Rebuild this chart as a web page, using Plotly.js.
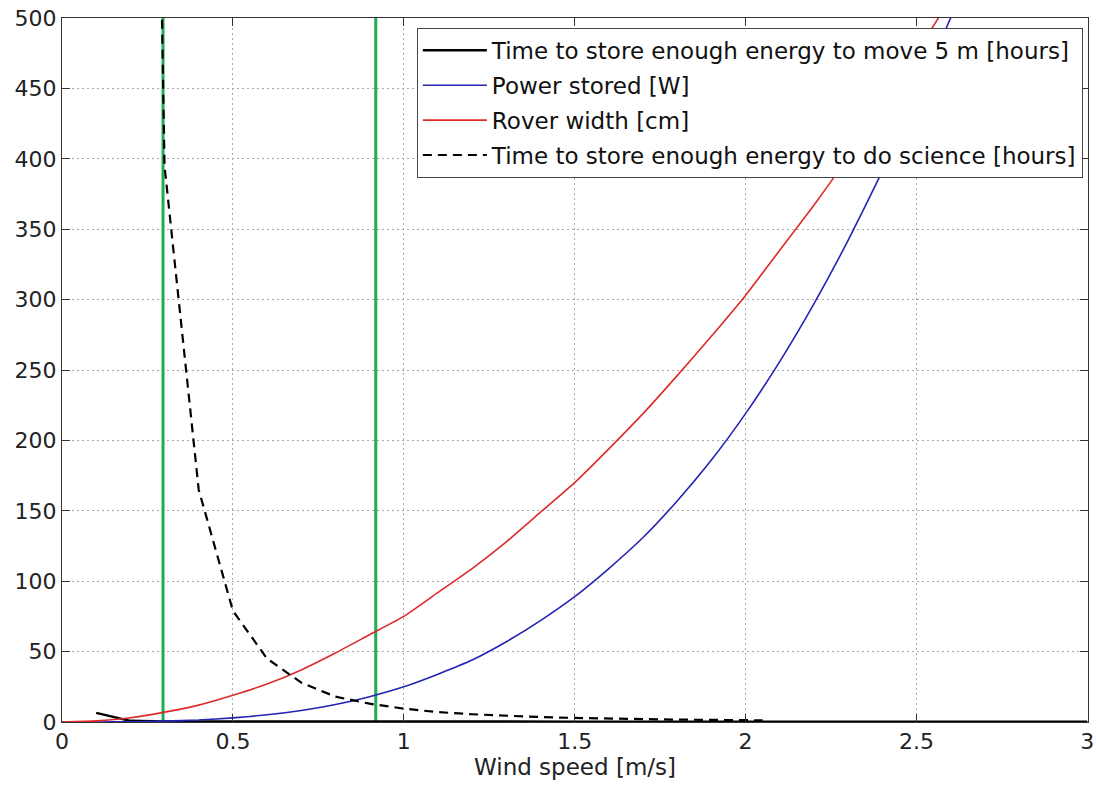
<!DOCTYPE html>
<html>
<head>
<meta charset="utf-8">
<script src="https://cdn.plot.ly/plotly-3.0.1.min.js"></script>
<style>html,body{margin:0;padding:0;background:#fff}#chart{width:1096px;height:790px}</style>
</head>
<body>
<div id="chart"></div>
<script>
// Time to store enough energy to move 5 m [hours]
const moveX = [0.1, 0.2, 0.3, 0.5, 1.0, 1.5, 2.0, 2.5, 3.0];
const moveY = [6.5, 0.8, 0.4, 0.3, 0.25, 0.25, 0.25, 0.25, 0.25];

// Power stored [W]
const powerX = [0, 0.1, 0.2, 0.3, 0.4, 0.5, 0.6, 0.7, 0.8, 0.9, 1.0, 1.1, 1.2, 1.3, 1.4, 1.5, 1.6, 1.7, 1.8, 1.9, 2.0, 2.1, 2.2, 2.3, 2.4, 2.5, 2.6, 2.65];
const powerY = [0, 0.02, 0.16, 0.6, 1.4, 2.9, 5.1, 8.2, 12.4, 18, 25, 34, 44, 57, 72, 89, 109, 131, 157, 186, 219, 256, 297, 342, 391, 444, 500, 530];

// Rover width [cm]
const widthX = [0, 0.1, 0.2, 0.3, 0.4, 0.5, 0.6, 0.7, 0.8, 0.9, 1.0, 1.1, 1.2, 1.3, 1.4, 1.5, 1.6, 1.7, 1.8, 1.9, 2.0, 2.1, 2.2, 2.3, 2.4, 2.5, 2.6];
const widthY = [0, 0.8, 3, 7, 12, 19, 27, 37, 49, 62, 75, 92, 109, 128, 149, 170, 194, 219, 246, 274, 303, 335, 367, 401, 437, 475, 514];

// Time to store enough energy to do science [hours]
const scienceX = [0.291, 0.3, 0.4, 0.5, 0.6, 0.7, 0.8, 0.9, 1.0, 1.1, 1.2, 1.3, 1.4, 1.5, 1.6, 1.7, 1.8, 1.9, 2.0, 2.05];
const scienceY = [520, 395, 165, 79, 45, 28, 18, 13, 9.5, 7, 5.5, 4.3, 3.5, 2.9, 2.4, 2.0, 1.7, 1.5, 1.3, 1.2];

// Vertical markers (wind speed limits)
const markerX = [0.2956, 0.918];
const markerY = [0, 500];

// Tick labels
const xTickVals = [0, 0.5, 1, 1.5, 2, 2.5, 3];
const xTickText = ["0", "0.5", "1", "1.5", "2", "2.5", "3"];
const yTickVals = [0, 50, 100, 150, 200, 250, 300, 350, 400, 450, 500];

const names = [
  "Time to store enough energy to move 5 m [hours]",
  "Power stored [W]",
  "Rover width [cm]",
  "Time to store enough energy to do science [hours]"
];

const traces = [];
markerX.forEach(function (mx) {
  traces.push({x: [mx, mx], y: markerY, mode: "lines", showlegend: false, hoverinfo: "skip",
    line: {color: "#22aa55", width: 3}});
});
traces.push({x: moveX, y: moveY, name: names[0], legendgroup: "a", mode: "lines", line: {color: "#000", width: 2.5}});
traces.push({x: powerX, y: powerY, name: names[1], legendgroup: "b", mode: "lines", line: {color: "#2424b4", width: 1.6, shape: "spline", smoothing: 0.5}});
traces.push({x: widthX, y: widthY, name: names[2], legendgroup: "c", mode: "lines", line: {color: "#dd2a2a", width: 1.6, shape: "spline", smoothing: 0.5}});
traces.push({x: scienceX, y: scienceY, name: names[3], legendgroup: "d", mode: "lines", line: {color: "#000", width: 2.2, dash: "9px,6px"}});

const fontFam = "DejaVu Sans, Arial, sans-serif";
const axisCommon = {
  showgrid: true, gridcolor: "#aaaaaa", griddash: "2px,3px", gridwidth: 1,
  showline: true, linecolor: "#333", linewidth: 1, mirror: "allticks",
  ticks: "inside", ticklen: 8, tickcolor: "#333", ticklabeloverflow: "allow",
  zeroline: false, tickfont: {family: fontFam, size: 22, color: "#222"}
};

const layout = {
  width: 1096, height: 790,
  margin: {l: 62, r: 8, t: 18, b: 68},
  paper_bgcolor: "#fff", plot_bgcolor: "#fff",
  showlegend: true,
  xaxis: Object.assign({}, axisCommon, {
    range: [0, 3.002], tickvals: xTickVals, ticktext: xTickText,
    title: {text: "Wind speed [m/s]", font: {family: fontFam, size: 23, color: "#222"}, standoff: 4}
  }),
  yaxis: Object.assign({}, axisCommon, {
    range: [0, 500], tickvals: yTickVals
  }),
  legend: {
    x: 0.995, y: 0.986, xanchor: "right", yanchor: "top",
    bgcolor: "#fff", bordercolor: "#444", borderwidth: 1,
    font: {family: fontFam, size: 23, color: "#111"},
    tracegroupgap: 2, traceorder: "grouped", itemwidth: 64
  }
};

Plotly.newPlot("chart", traces, layout, {staticPlot: true});
</script>
</body>
</html>
